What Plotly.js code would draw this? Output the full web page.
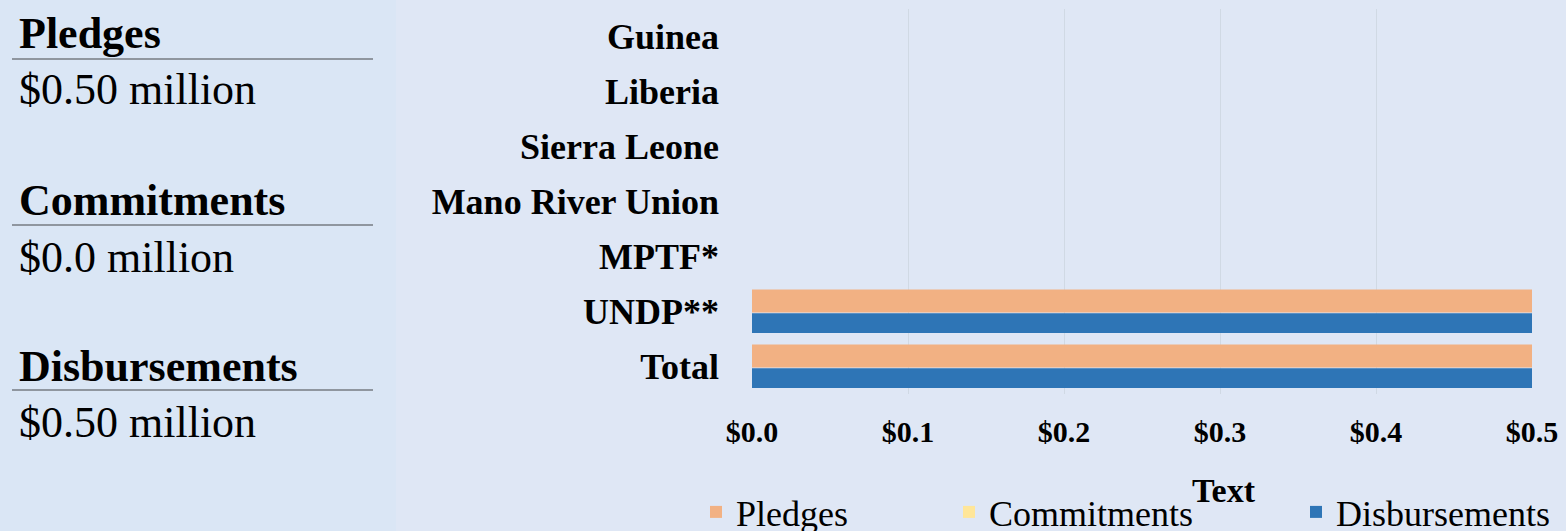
<!DOCTYPE html>
<html>
<head>
<meta charset="utf-8">
<script src="https://cdn.plot.ly/plotly-3.0.1.min.js"></script>
<style>
  html, body { margin: 0; padding: 0; background: #dfe7f5; }
  #chart { width: 1566px; height: 531px; }
</style>
</head>
<body>
<div id="chart"></div>
<script>
// ---- data ----
var categories = ['Guinea', 'Liberia', 'Sierra Leone', 'Mano River Union', 'MPTF*', 'UNDP**', 'Total'];
var pledges = [0, 0, 0, 0, 0, 0.5, 0.5];
var commitments = [0, 0, 0, 0, 0, 0, 0];
var disbursements = [0, 0, 0, 0, 0, 0.5, 0.5];
var seriesNames = ['Pledges', 'Commitments', 'Disbursements'];
var summaryTitles = ['Pledges', 'Commitments', 'Disbursements'];
var summaryValues = ['$0.50 million', '$0.0 million', '$0.50 million'];
var xTickVals = [0, 0.1, 0.2, 0.3, 0.4, 0.5];
var xTickText = xTickVals.map(function (v) { return '$' + v.toFixed(1); });
var xTitle = 'Text';

// ---- layout helpers (pixel -> paper) ----
var W = 1566, H = 531;
var M = {l: 752, r: 34, t: 9, b: 137};
var PW = W - M.l - M.r, PH = H - M.t - M.b;
function px(x) { return (x - M.l) / PW; }
function py(y) { return (H - M.b - y) / PH; }

var serif = 'Liberation Serif, Times New Roman, serif';
var colors = ['#f2b183', '#ffe699', '#2e75b6'];

var traces = [
  {type: 'bar', orientation: 'h', name: seriesNames[0], y: categories, x: pledges,
   marker: {color: colors[0], line: {width: 0}}, offset: -0.4, width: 0.42, legend: 'legend'},
  {type: 'bar', orientation: 'h', name: seriesNames[1], y: categories, x: commitments,
   marker: {color: colors[1], line: {width: 0}}, offset: -0.1, width: 0.3, legend: 'legend2'},
  {type: 'bar', orientation: 'h', name: seriesNames[2], y: categories, x: disbursements,
   marker: {color: colors[2], line: {width: 0}}, offset: 0.03, width: 0.36, legend: 'legend3'}
];

var annotations = [];
var shapes = [];
// left panel background
shapes.push({type: 'rect', xref: 'paper', yref: 'paper', x0: px(-5), x1: px(396), y0: py(540), y1: py(-5),
  fillcolor: '#dae6f5', line: {width: 0}, layer: 'below'});

var titleY = [33, 200, 366];
var ruleY = [59, 225, 390];
var valueY = [90, 257, 422];
for (var i = 0; i < summaryTitles.length; i++) {
  annotations.push({xref: 'paper', yref: 'paper', x: px(17), y: py(titleY[i]), xanchor: 'left', yanchor: 'middle',
    text: '<b>' + summaryTitles[i] + '</b>', showarrow: false, font: {family: serif, size: 44, color: '#000'}});
  annotations.push({xref: 'paper', yref: 'paper', x: px(17), y: py(valueY[i]), xanchor: 'left', yanchor: 'middle',
    text: summaryValues[i], showarrow: false, font: {family: serif, size: 44, color: '#000'}});
  shapes.push({type: 'line', xref: 'paper', yref: 'paper', x0: px(12), x1: px(373), y0: py(ruleY[i]), y1: py(ruleY[i]),
    line: {color: '#767b82', width: 1.5}});
}
// x-axis title (placed off-centre, as in the reference)
annotations.push({xref: 'paper', yref: 'paper', x: px(1224), y: py(490), xanchor: 'center', yanchor: 'middle',
  text: '<b>' + xTitle + '</b>', showarrow: false, font: {family: serif, size: 34, color: '#000'}});

function legendAt(xpx) {
  return {orientation: 'h', x: px(xpx), xanchor: 'left', y: py(512), yanchor: 'middle',
    bgcolor: 'rgba(0,0,0,0)', borderwidth: 0, font: {family: serif, size: 36, color: '#000'}, itemwidth: 30};
}

var layout = {
  width: W, height: H,
  margin: {l: M.l, r: M.r, t: M.t, b: M.b, pad: 0, autoexpand: false},
  paper_bgcolor: '#dfe7f5',
  plot_bgcolor: '#dfe7f5',
  barmode: 'overlay',
  showlegend: true,
  legend: legendAt(696),
  legend2: legendAt(949),
  legend3: legendAt(1296),
  xaxis: {
    range: [0, 0.5], tickvals: xTickVals, ticktext: xTickText,
    showgrid: true, gridcolor: '#d0d9e4', gridwidth: 1, zeroline: false, showline: false, ticks: '',
    tickfont: {family: serif, size: 30, color: '#000', weight: 'bold'},
    ticklabelstandoff: 17
  },
  yaxis: {
    type: 'category', categoryorder: 'array', categoryarray: categories,
    autorange: 'reversed', showgrid: false, zeroline: false, showline: false, ticks: '',
    tickfont: {family: serif, size: 36, color: '#000', weight: 'bold'},
    ticklabelstandoff: 32
  },
  shapes: shapes,
  annotations: annotations,
  hovermode: false
};

Plotly.newPlot('chart', traces, layout, {displayModeBar: false, staticPlot: true});
</script>
</body>
</html>
